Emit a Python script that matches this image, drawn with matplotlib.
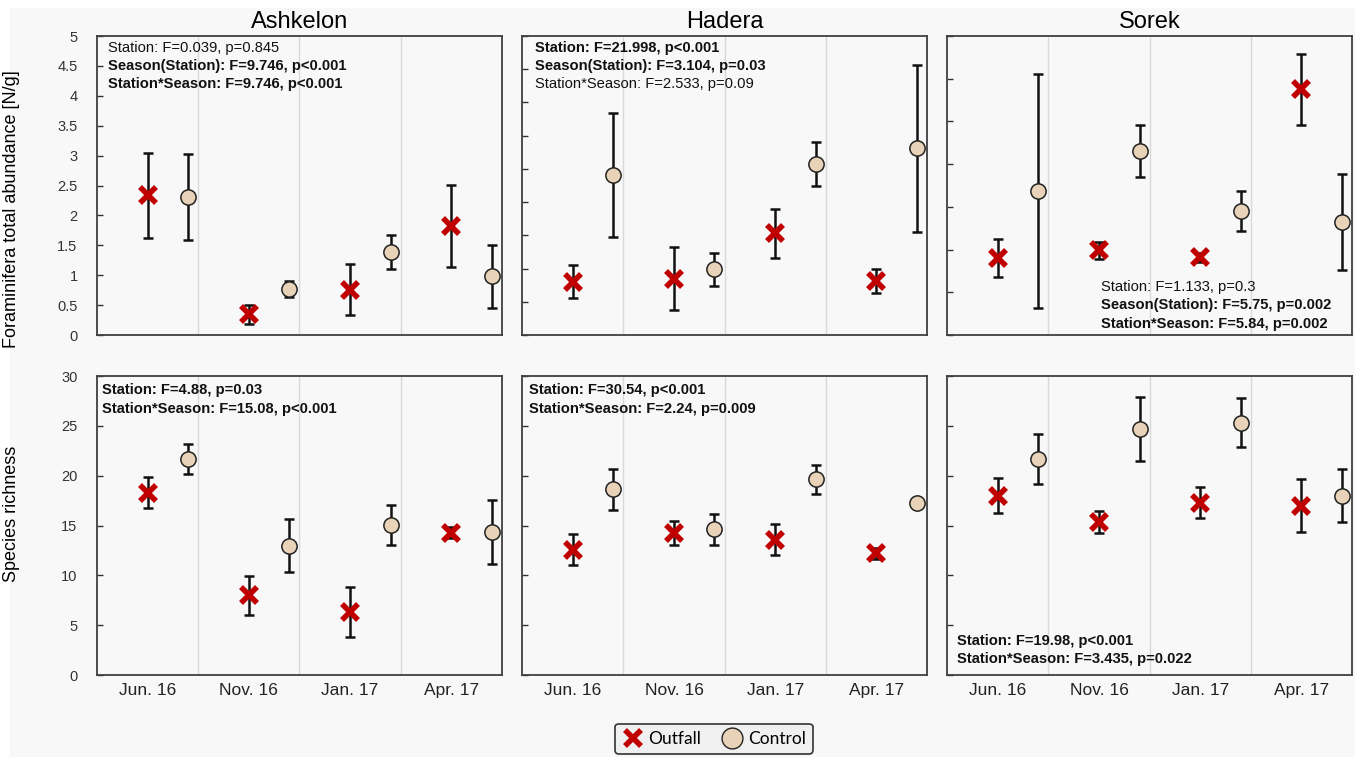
import matplotlib
matplotlib.use("Agg")
import matplotlib.pyplot as plt
from matplotlib.patches import Rectangle
from matplotlib.lines import Line2D
import numpy as np

plt.rcParams['font.family'] = ['Liberation Sans', 'DejaVu Sans']

seasons = ["Jun. 16", "Nov. 16", "Jan. 17", "Apr. 17"]
stations = ["Ashkelon", "Hadera", "Sorek"]

# abundance (top row)
abund_out = {"Ashkelon": [2.34, 0.35, 0.76, 1.82],
             "Hadera": [0.80, 0.85, 1.53, 0.82],
             "Sorek": [1.81, 1.98, 1.82, 5.75]}
abund_out_err = {"Ashkelon": [0.71, 0.16, 0.42, 0.69],
                 "Hadera": [0.25, 0.47, 0.37, 0.18],
                 "Sorek": [0.45, 0.20, 0.10, 0.83]}
abund_ctl = {"Ashkelon": [2.31, 0.77, 1.39, 0.98],
             "Hadera": [2.41, 0.99, 2.57, 2.81],
             "Sorek": [3.37, 4.31, 2.91, 2.64]}
abund_ctl_err = {"Ashkelon": [0.72, 0.13, 0.29, 0.53],
                 "Hadera": [0.93, 0.25, 0.33, 1.26],
                 "Sorek": [2.74, 0.60, 0.47, 1.12]}
abund_ylim = {"Ashkelon": (5, 0.5), "Hadera": (4.5, 0.5), "Sorek": (7, 1)}

# species richness (bottom row)
rich_out = {"Ashkelon": [18.27, 7.98, 6.30, 14.28],
            "Hadera": [12.57, 14.23, 13.57, 12.24],
            "Sorek": [18.0, 15.33, 17.27, 17.0]}
rich_out_err = {"Ashkelon": [1.55, 2.0, 2.53, 0.57],
                "Hadera": [1.55, 1.18, 1.55, 0.55],
                "Sorek": [1.75, 1.13, 1.55, 2.65]}
rich_ctl = {"Ashkelon": [21.66, 12.97, 15.02, 14.31],
            "Hadera": [18.62, 14.63, 19.62, 17.29],
            "Sorek": [21.67, 24.67, 25.33, 18.0]}
rich_ctl_err = {"Ashkelon": [1.52, 2.65, 2.0, 3.22],
                "Hadera": [2.1, 1.55, 1.5, 0.0],
                "Sorek": [2.5, 3.2, 2.5, 2.65]}

abund_stats = {
    "Ashkelon": [("Station: F=0.039, p=0.845", False),
                 ("Season(Station): F=9.746, p<0.001", True),
                 ("Station*Season: F=9.746, p<0.001", True)],
    "Hadera": [("Station: F=21.998, p<0.001", True),
               ("Season(Station): F=3.104, p=0.03", True),
               ("Station*Season: F=2.533, p=0.09", False)],
    "Sorek": [("Station: F=1.133, p=0.3", False),
              ("Season(Station): F=5.75, p=0.002", True),
              ("Station*Season: F=5.84, p=0.002", True)],
}
rich_stats = {
    "Ashkelon": [("Station: F=4.88, p=0.03", True),
                 ("Station*Season: F=15.08, p<0.001", True)],
    "Hadera": [("Station: F=30.54, p<0.001", True),
               ("Station*Season: F=2.24, p=0.009", True)],
    "Sorek": [("Station: F=19.98, p<0.001", True),
              ("Station*Season: F=3.435, p=0.022", True)],
}

RED = "#c00000"
BEIGE = "#e8d3b8"
BG = "#f8f8f8"

fig, axes = plt.subplots(2, 3, figsize=(13.63, 7.57), dpi=100)
fig.patch.set_facecolor("white")
fig.patches.append(Rectangle((10 / 1363, 0), 1345 / 1363, 749 / 757,
                             transform=fig.transFigure, facecolor=BG,
                             edgecolor="none", zorder=-10))
fig.subplots_adjust(left=0.0712, right=0.992, top=0.9524, bottom=0.1083,
                    wspace=0.05, hspace=0.137)

x = np.arange(4)


def put_stats(ax, lines, x0, y0, from_top=True):
    step = 0.061
    n = len(lines)
    for i, (txt, bold) in enumerate(lines):
        if from_top:
            y = y0 - i * step
            va = "top"
        else:
            y = y0 + (n - 1 - i) * step
            va = "bottom"
        ax.text(x0, y, txt, transform=ax.transAxes, fontsize=10.6,
                fontweight="bold" if bold else "normal", va=va, ha="left",
                color="#111111")


def draw(ax, out, out_err, ctl, ctl_err, ymax, step):
    ax.set_facecolor(BG)
    for b in [0.5, 1.5, 2.5]:
        ax.axvline(b, color="#d9d9d9", lw=1, zorder=0)
    ax.errorbar(x, out, yerr=out_err, fmt="none", ecolor="#111111",
                elinewidth=1.8, capsize=3.5, capthick=1.8, zorder=2)
    ax.plot(x, out, linestyle="none", marker="x", markersize=12,
            markeredgewidth=4, color=RED, zorder=3)
    ax.errorbar(x + 0.4, ctl, yerr=ctl_err, fmt="none", ecolor="#111111",
                elinewidth=1.8, capsize=3.5, capthick=1.8, zorder=2)
    ax.plot(x + 0.4, ctl, linestyle="none", marker="o", markersize=11,
            markerfacecolor=BEIGE, markeredgecolor="#222222",
            markeredgewidth=1.1, zorder=3)
    ax.set_xlim(-0.5, 3.5)
    ax.set_ylim(0, ymax)
    ax.set_yticks(np.arange(0, ymax + step / 2, step))
    ax.set_xticks(x)
    ax.tick_params(axis="x", length=0, labelsize=12.5, pad=6,
                   labelcolor="#222222")
    ax.tick_params(axis="y", direction="in", length=4, width=1,
                   labelsize=10.5, labelcolor="#333333", color="#333333",
                   pad=14)
    for s in ax.spines.values():
        s.set_color("#404040")
        s.set_linewidth(1.3)


for j, st in enumerate(stations):
    ax = axes[0, j]
    ymax, step = abund_ylim[st]
    draw(ax, abund_out[st], abund_out_err[st], abund_ctl[st],
         abund_ctl_err[st], ymax, step)
    ax.set_title(st, fontsize=17, pad=6)
    ax.set_xticklabels([])
    if j == 0:
        ax.set_yticklabels([f"{v:g}" for v in np.arange(0, ymax + step / 2, step)])
        ax.set_ylabel("Foraminifera total abundance [N/g]", fontsize=13)
        ax.yaxis.set_label_coords(-0.19, 0.42)
    else:
        ax.set_yticklabels([])

    ax = axes[1, j]
    draw(ax, rich_out[st], rich_out_err[st], rich_ctl[st],
         rich_ctl_err[st], 30, 5)
    ax.set_xticklabels(seasons)
    if j == 0:
        ax.set_ylabel("Species richness", fontsize=13)
        ax.yaxis.set_label_coords(-0.19, 0.54)
    else:
        ax.set_yticklabels([])

put_stats(axes[0, 0], abund_stats["Ashkelon"], 0.027, 0.985)
put_stats(axes[0, 1], abund_stats["Hadera"], 0.032, 0.985)
put_stats(axes[0, 2], abund_stats["Sorek"], 0.38, 0.015, from_top=False)
put_stats(axes[1, 0], rich_stats["Ashkelon"], 0.012, 0.975)
put_stats(axes[1, 1], rich_stats["Hadera"], 0.017, 0.975)
put_stats(axes[1, 2], rich_stats["Sorek"], 0.025, 0.03, from_top=False)

handles = [Line2D([], [], linestyle="none", marker="x", markersize=12,
                  markeredgewidth=4, color=RED),
           Line2D([], [], linestyle="none", marker="o", markersize=15,
                  markerfacecolor=BEIGE, markeredgecolor="#222222")]
leg = fig.legend(handles, ["Outfall", "Control"], loc="lower center",
                 bbox_to_anchor=(714 / 1363, 0.0), ncol=2,
                 frameon=True, fancybox=True, handletextpad=0.3,
                 columnspacing=1.2, borderaxespad=0.2, handlelength=1.2,
                 prop={"family": ["Lato", "DejaVu Sans"], "size": 12.5})
leg.get_frame().set_facecolor("#f0f0f0")
leg.get_frame().set_edgecolor("#333333")
leg.get_frame().set_linewidth(1.2)
leg.get_frame().set_alpha(1)

fig.savefig("out.png", dpi=100, facecolor=fig.get_facecolor())
